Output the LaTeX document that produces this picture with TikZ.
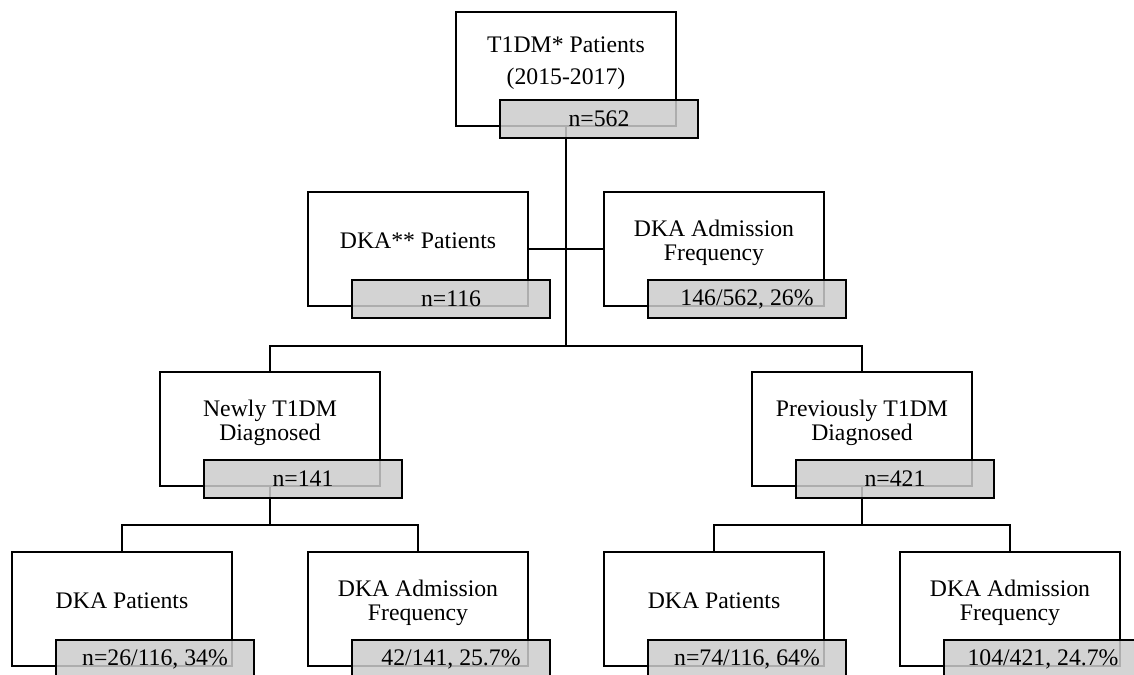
\documentclass[tikz,border=0pt]{standalone}
\usepackage{fontspec}
\setmainfont{Liberation Serif}
\usepackage{tikz}
\usetikzlibrary{calc}
\definecolor{cellgray}{gray}{0.8}

\begin{document}
\begin{tikzpicture}[x=0.75pt, y=-0.75pt, line width=2.1pt,
        box_style/.style={rectangle,draw=black,fill=white,minimum width=165pt,minimum height=85.5pt,inner sep=0pt},
        count_style/.style={rectangle,draw=black,fill=cellgray,fill opacity=0.85,text opacity=1,minimum width=148.5pt,minimum height=28.5pt,inner sep=0pt,font=\fontsize{17.8}{18}\selectfont},
        text_style/.style={align=center,inner sep=0pt,font=\fontsize{17.8}{18}\selectfont},
        edge_style/.style={draw=black, line width=2.1pt,-}]

        \useasboundingbox (0,0) rectangle (1134,674);

        \node [box_style](n1) at (566,69) {};
        \node [box_style](n2) at (418,249) {};
        \node [box_style](n3) at (714,249) {};
        \node [box_style](n4) at (270,429) {};
        \node [box_style](n5) at (862,429) {};
        \node [box_style](n6) at (122,609) {};
        \node [box_style](n7) at (418,609) {};
        \node [box_style](n8) at (714,609) {};
        \node [box_style](n9) at (1010,609) {};

        \coordinate (c1) at (566,346);
        \coordinate (c2) at (270,525);
        \coordinate (c3) at (862,525);
        \draw [edge_style] (n1.south) -- (c1);
        \draw [edge_style] (n2.east) -- (n3.west);
        \draw [edge_style] (n4.north) |- (c1) -| (n5.north);
        \draw [edge_style] (n4.south) -- (c2);
        \draw [edge_style] (n6.north) |- (c2) -| (n7.north);
        \draw [edge_style] (n5.south) -- (c3);
        \draw [edge_style] (n8.north) |- (c3) -| (n9.north);

        \node [count_style](g1) at (599,119) {n=562};
        \node [count_style](g2) at (451,299) {n=116};
        \node [count_style](g3) at (747,299) {146/562, 26\%};
        \node [count_style](g4) at (303,479) {n=141};
        \node [count_style](g5) at (895,479) {n=421};
        \node [count_style](g6) at (155,659) {n=26/116, 34\%};
        \node [count_style](g7) at (451,659) {42/141, 25.7\%};
        \node [count_style](g8) at (747,659) {n=74/116, 64\%};
        \node [count_style](g9) at (1043,659) {104/421, 24.7\%};

        \node [text_style,font=\fontsize{17.8}{24}\selectfont](t1) at (566,63) {T1DM* Patients\\(2015-2017)};
        \node [text_style](t2) at (418,241) {DKA** Patients};
        \node [text_style](t3) at (714,243) {DKA Admission\\Frequency};
        \node [text_style](t4) at (270,423) {Newly T1DM\\Diagnosed};
        \node [text_style](t5) at (862,423) {Previously T1DM\\Diagnosed};
        \node [text_style](t6) at (122,601) {DKA Patients};
        \node [text_style](t7) at (418,603) {DKA Admission\\Frequency};
        \node [text_style](t8) at (714,601) {DKA Patients};
        \node [text_style](t9) at (1010,603) {DKA Admission\\Frequency};
        \end{tikzpicture}
\end{document}
